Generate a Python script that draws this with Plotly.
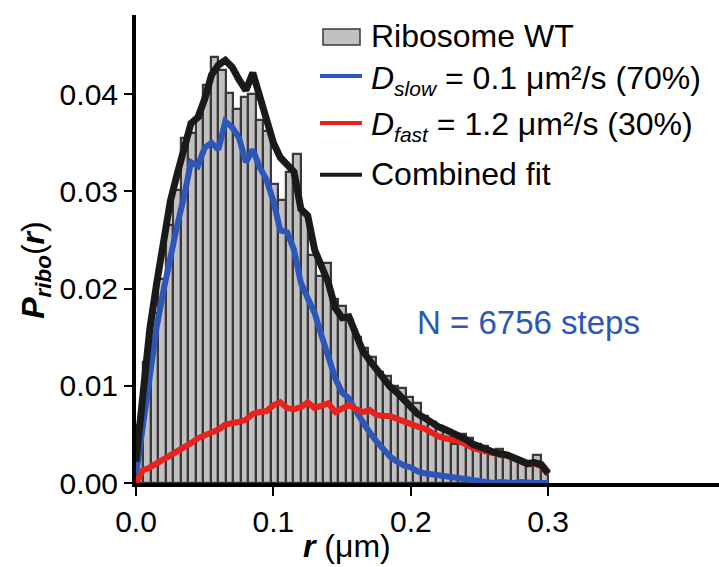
import plotly.graph_objects as go

# ---------------- data ----------------
n_bins = 55
r_max_hist = 0.3
hist_vals = [0.0060, 0.0125, 0.0175, 0.0210, 0.0265, 0.0301, 0.0355, 0.0360, 0.0376, 0.0410,
             0.0438, 0.0425, 0.0401, 0.0385, 0.0397, 0.0400, 0.0373, 0.0362, 0.0308, 0.0291,
             0.0320, 0.0339, 0.0278, 0.0235, 0.0213, 0.0226, 0.0189, 0.0182, 0.0168, 0.0150,
             0.0139, 0.0130, 0.0114, 0.0110, 0.0100, 0.0098, 0.0088, 0.0082, 0.0069, 0.0063,
             0.0059, 0.0055, 0.0040, 0.0050, 0.0046, 0.0040, 0.0038, 0.0032, 0.0035, 0.0028,
             0.0026, 0.0022, 0.0019, 0.0029, 0.0012]

curve_step = 0.005
combined_fit = [0.0022, 0.0090, 0.0158, 0.0205, 0.0252, 0.0290, 0.0318, 0.0345, 0.0370, 0.0376,
                0.0395, 0.0420, 0.0430, 0.0435, 0.0428, 0.0415, 0.0404, 0.0422, 0.0398, 0.0372,
                0.0350, 0.0335, 0.0328, 0.0320, 0.0282, 0.0275, 0.0240, 0.0224, 0.0206, 0.0180,
                0.0170, 0.0171, 0.0155, 0.0136, 0.0126, 0.0117, 0.0110, 0.0099, 0.0093, 0.0086,
                0.0079, 0.0071, 0.0067, 0.0062, 0.0058, 0.0055, 0.0052, 0.0048, 0.0045, 0.0040,
                0.0037, 0.0034, 0.0032, 0.0030, 0.0029, 0.0026, 0.0022, 0.0020, 0.0021, 0.0019,
                0.0010]
d_slow = [0.0008, 0.0060, 0.0118, 0.0160, 0.0198, 0.0235, 0.0265, 0.0295, 0.0330, 0.0326,
          0.0345, 0.0350, 0.0343, 0.0372, 0.0366, 0.0355, 0.0330, 0.0343, 0.0325, 0.0312,
          0.0290, 0.0260, 0.0258, 0.0240, 0.0206, 0.0190, 0.0175, 0.0152, 0.0130, 0.0108,
          0.0093, 0.0087, 0.0074, 0.0062, 0.0052, 0.0043, 0.0035, 0.0027, 0.0022, 0.0018,
          0.0016, 0.0012, 0.0010, 0.0009, 0.0008, 0.0007, 0.0005, 0.0004, 0.0003, 0.0002,
          0.0001, 0.0000, 0.0000, 0.0001, 0.0000, 0.0000, 0.0001, 0.0000, 0.0000, 0.0000,
          0.0000]
d_fast = [0.0000, 0.0013, 0.0016, 0.0020, 0.0025, 0.0029, 0.0032, 0.0036, 0.0041, 0.0046,
          0.0049, 0.0052, 0.0055, 0.0060, 0.0061, 0.0063, 0.0065, 0.0071, 0.0073, 0.0074,
          0.0080, 0.0083, 0.0077, 0.0076, 0.0078, 0.0083, 0.0077, 0.0080, 0.0082, 0.0073,
          0.0076, 0.0080, 0.0076, 0.0073, 0.0075, 0.0070, 0.0069, 0.0069, 0.0066, 0.0063,
          0.0061, 0.0058, 0.0056, 0.0052, 0.0048, 0.0046, 0.0045, 0.0043, 0.0040, 0.0036,
          0.0034, 0.0032, 0.0031, 0.0029, 0.0028, 0.0025, 0.0021, 0.0019, 0.0020, 0.0017,
          0.0009]

x_ticks = [0.0, 0.1, 0.2, 0.3]
x_tick_labels = ["0.0", "0.1", "0.2", "0.3"]
y_ticks = [0.00, 0.01, 0.02, 0.03, 0.04]
y_tick_labels = ["0.00", "0.01", "0.02", "0.03", "0.04"]

SUB = '<span style="font-size:21px">{}</span>'
legend_labels = ["Ribosome WT",
                 "<i>D</i><sub>" + SUB.format("<i>slow</i>") + "</sub> = 0.1 μm²/s (70%)",
                 "<i>D</i><sub>" + SUB.format("<i>fast</i>") + "</sub> = 1.2 μm²/s (30%)",
                 "Combined fit"]
n_text = "N = 6756 steps"

# ---------------- geometry ----------------
W, H = 719, 567
L, T = 136, 15
B_PX = 483.5
plot_w = W - L
plot_h = B_PX - T
px_per_unit_x = 1374.0
px_per_unit_y = 9730.0
x_range = [0, plot_w / px_per_unit_x]
y_range = [0, plot_h / px_per_unit_y]


def px2x(px):
    return (px - L) / plot_w


def py2y(py):
    return (B_PX - py) / plot_h


bw = r_max_hist / n_bins
bin_centers = [(i + 0.5) * bw for i in range(n_bins)]
r_curve = [k * curve_step for k in range(len(combined_fit))]

FONT = "Liberation Sans, Arial, Helvetica, sans-serif"
BLUE = "#2c56b8"
RED = "#e8231e"
BLACK = "#1a1a1a"
GRAY = "#c2c1c2"
EDGE = "#3a3838"

fig = go.Figure()
fig.add_trace(go.Bar(x=bin_centers, y=hist_vals, width=bw,
                     marker=dict(color=GRAY, line=dict(color=EDGE, width=2.2)),
                     showlegend=False))
fig.add_trace(go.Scatter(x=r_curve, y=d_slow, mode="lines",
                         line=dict(color=BLUE, width=6), showlegend=False))
fig.add_trace(go.Scatter(x=r_curve, y=d_fast, mode="lines",
                         line=dict(color=RED, width=6), showlegend=False))
fig.add_trace(go.Scatter(x=r_curve, y=combined_fit, mode="lines",
                         line=dict(color=BLACK, width=7), showlegend=False))

fig.update_layout(
    width=W, height=H,
    margin=dict(l=L, r=0, t=T, b=H - B_PX, pad=0),
    paper_bgcolor="white", plot_bgcolor="white",
    bargap=0,
    font=dict(family=FONT, size=30, color="black"),
    xaxis=dict(range=x_range, tickvals=x_ticks, ticktext=x_tick_labels,
               showgrid=False, zeroline=False, showline=True, linecolor="black",
               linewidth=4, ticks="outside", ticklen=9, tickwidth=2, tickcolor="black",
               tickfont=dict(size=30), automargin=False),
    yaxis=dict(range=y_range, tickvals=y_ticks, ticktext=y_tick_labels,
               showgrid=False, zeroline=False, showline=True, linecolor="black",
               linewidth=4, ticks="outside", ticklen=8, tickwidth=2, tickcolor="black",
               tickfont=dict(size=30), automargin=False),
)

annotations = []
# axis titles
annotations.append(dict(text="<b><i>r</i></b> (μm)", xref="paper", yref="paper",
                        x=px2x(347), y=py2y(547), xanchor="center", yanchor="middle",
                        showarrow=False, font=dict(size=32)))
annotations.append(dict(text="<b><i>P</i></b><sub><b><i>ribo</i></b></sub>(<b><i>r</i></b>)",
                        xref="paper", yref="paper", x=px2x(36), y=py2y(271),
                        xanchor="center", yanchor="middle", textangle=-90,
                        showarrow=False, font=dict(size=32)))
# N text
annotations.append(dict(text=n_text, xref="paper", yref="paper",
                        x=px2x(415), y=py2y(323), xanchor="left", yanchor="middle",
                        showarrow=False, font=dict(size=33, color=BLUE)))
# legend texts
legend_rows_py = [36, 80, 126, 174]
for lbl, py in zip(legend_labels, legend_rows_py):
    annotations.append(dict(text=lbl, xref="paper", yref="paper",
                            x=px2x(369), y=py2y(py), xanchor="left", yanchor="middle",
                            showarrow=False, font=dict(size=32)))
fig.update_layout(annotations=annotations)

shapes = []
shapes.append(dict(type="rect", xref="paper", yref="paper",
                   x0=px2x(323), x1=px2x(360), y0=py2y(45), y1=py2y(29),
                   fillcolor=GRAY, line=dict(color=EDGE, width=1.5)))
for color, py, w in [(BLUE, 76, 4), (RED, 123, 4), (BLACK, 175, 4)]:
    shapes.append(dict(type="line", xref="paper", yref="paper",
                       x0=px2x(320), x1=px2x(362), y0=py2y(py), y1=py2y(py),
                       line=dict(color=color, width=w)))
fig.update_layout(shapes=shapes)

fig.write_html("out.html")
